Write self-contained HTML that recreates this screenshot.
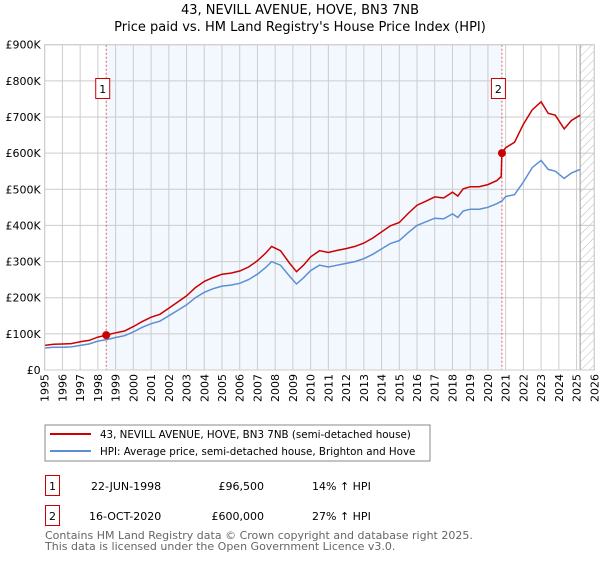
<!DOCTYPE html>
<html><head><meta charset="utf-8"><style>
body{margin:0;background:#fff;font-family:"Liberation Sans","DejaVu Sans",sans-serif;}
svg text{font-family:"DejaVu Sans","Liberation Sans",sans-serif;}
</style></head><body>
<svg id="c" width="600" height="560" viewBox="0 0 600 560">
<defs><pattern id="hatch" width="6" height="6" patternUnits="userSpaceOnUse" patternTransform="rotate(45)"><line x1="0" y1="0" x2="0" y2="6" stroke="#bbb" stroke-width="1"/></pattern></defs>
<text x="300" y="14" text-anchor="middle" font-size="13" fill="#000">43, NEVILL AVENUE, HOVE, BN3 7NB</text>
<text x="300" y="31" text-anchor="middle" font-size="13" fill="#000">Price paid vs. HM Land Registry's House Price Index (HPI)</text>
<g id="plot"></g>
<rect x="45" y="425" width="385" height="36" fill="#fff" stroke="#888"/>
<line x1="50" y1="434" x2="91" y2="434" stroke="#cc0000" stroke-width="2"/>
<text x="100" y="438" font-size="10.3">43, NEVILL AVENUE, HOVE, BN3 7NB (semi-detached house)</text>
<line x1="50" y1="451" x2="91" y2="451" stroke="#5b8fd4" stroke-width="2"/>
<text x="100" y="455" font-size="10.3">HPI: Average price, semi-detached house, Brighton and Hove</text>
<rect x="45.5" y="475.5" width="14" height="20" fill="#fff" stroke="#cc0000"/>
<text x="52.5" y="490" font-size="11" text-anchor="middle">1</text>
<text x="91" y="490" font-size="11">22-JUN-1998</text>
<text x="264" y="490" font-size="11" text-anchor="end">£96,500</text>
<text x="312" y="490" font-size="11">14% ↑ HPI</text>
<rect x="45.5" y="505.5" width="14" height="20" fill="#fff" stroke="#cc0000"/>
<text x="52.5" y="520" font-size="11" text-anchor="middle">2</text>
<text x="89" y="520" font-size="11">16-OCT-2020</text>
<text x="264" y="520" font-size="11" text-anchor="end">£600,000</text>
<text x="312" y="520" font-size="11">27% ↑ HPI</text>
<text x="45" y="539" font-size="11" fill="#666">Contains HM Land Registry data © Crown copyright and database right 2025.</text>
<text x="45" y="550" font-size="11" fill="#666">This data is licensed under the Open Government Licence v3.0.</text>
</svg>
<script>
const yTicks=[0,100000,200000,300000,400000,500000,600000,700000,800000,900000];
const yTickLabels=["£0","£100K","£200K","£300K","£400K","£500K","£600K","£700K","£800K","£900K"];
const xYears=[1995,1996,1997,1998,1999,2000,2001,2002,2003,2004,2005,2006,2007,2008,2009,2010,2011,2012,2013,2014,2015,2016,2017,2018,2019,2020,2021,2022,2023,2024,2025,2026];
const hpiT=[1995,1995.5,1996,1996.5,1997,1997.5,1998,1998.5,1999,1999.5,2000,2000.5,2001,2001.5,2002,2002.5,2003,2003.5,2004,2004.5,2005,2005.5,2006,2006.5,2007,2007.5,2007.8,2008.3,2008.8,2009.2,2009.6,2010,2010.5,2011,2011.5,2012,2012.5,2013,2013.5,2014,2014.5,2015,2015.5,2016,2016.5,2017,2017.5,2018,2018.3,2018.6,2019,2019.5,2020,2020.5,2020.8,2021,2021.5,2022,2022.5,2023,2023.4,2023.8,2024.3,2024.7,2025.2];
const hpiV=[61,63,63,64,68,72,80,84,90,95,105,118,128,135,150,165,180,200,215,225,232,235,240,250,265,285,300,290,260,238,255,275,290,285,290,295,300,308,320,335,350,358,380,400,410,420,418,432,422,440,445,445,450,460,468,480,485,520,560,580,555,550,530,545,555];
const priceT=[1995,1995.5,1996,1996.5,1997,1997.5,1998,1998.47,1999,1999.5,2000,2000.5,2001,2001.5,2002,2002.5,2003,2003.5,2004,2004.5,2005,2005.5,2006,2006.5,2007,2007.5,2007.8,2008.3,2008.8,2009.2,2009.6,2010,2010.5,2011,2011.5,2012,2012.5,2013,2013.5,2014,2014.5,2015,2015.5,2016,2016.5,2017,2017.5,2018,2018.3,2018.6,2019,2019.5,2020,2020.5,2020.75,2020.79,2021,2021.5,2022,2022.5,2023,2023.4,2023.8,2024.3,2024.7,2025.2];
const priceV=[68,71,72,73,78,82,91,96.5,103,108,120,134,146,154,171,188,205,228,245,256,265,268,274,285,302,325,342,330,296,272,290,313,330,325,331,336,342,351,365,382,399,408,433,456,467,479,476,492,481,501,507,507,513,524,535,600,615,630,680,720,742,710,705,667,690,705];
const sales=[{t:1998.47,v:96.5,label:"1"},{t:2020.79,v:600,label:"2"}];
const X0=44.7,X1=594.3,Y0=370,Y1=44.7;
const xs=t=>X0+(t-1995)/(2026-1995)*(X1-X0);
const ys=v=>Y0-v/900000*(Y0-Y1);
const NS="http://www.w3.org/2000/svg";
const g=document.getElementById('plot');
function el(n,a){const e=document.createElementNS(NS,n);for(const k in a)e.setAttribute(k,a[k]);g.appendChild(e);return e;}
let r=el('rect',{x:xs(1998.47),y:Y1,width:xs(2020.79)-xs(1998.47),height:Y0-Y1,fill:'#f3f7fe'});


r=el('rect',{x:xs(2025.2),y:Y1,width:X1-xs(2025.2),height:Y0-Y1,fill:'url(#hatch)'});


yTicks.forEach((v,i)=>{
 const l=el('line',{x1:X0,x2:X1,y1:ys(v),y2:ys(v),stroke:'#ccc'});
 
 
 const t=el('text',{x:X0-4,y:ys(v)+4,'text-anchor':'end','font-size':11});
 t.textContent=yTickLabels[i];
 
 
});
xYears.forEach(yr=>{
 const l=el('line',{x1:xs(yr),x2:xs(yr),y1:Y1,y2:Y0,stroke:'#ccc'});
 
 
 const x=xs(yr),y=Y0+4;
 const t=el('text',{x:x+4,y:y,'text-anchor':'end','font-size':11,transform:`rotate(-90 ${x+4} ${y})`});
 t.textContent=yr;
 
 
});
r=el('line',{x1:xs(2025.2),x2:xs(2025.2),y1:Y1,y2:Y0,stroke:'#999'});


sales.forEach(s=>{
 const l=el('line',{x1:xs(s.t),x2:xs(s.t),y1:Y1,y2:Y0,stroke:'#e06060','stroke-dasharray':'2,2'});
 
 
});
function path(T,V,col,name){
 const d=T.map((t,i)=>(i?'L':'M')+xs(t).toFixed(1)+','+ys(V[i]*1000).toFixed(1)).join('');
 const p=el('path',{d:d,fill:'none',stroke:col,'stroke-width':1.5});
 
 
}
path(hpiT,hpiV,'#5b8fd4','hpi-line');
path(priceT,priceV,'#cc0000','price-paid-line');
sales.forEach(s=>{
 const c=el('circle',{cx:xs(s.t),cy:ys(s.v*1000),r:4,fill:'#cc0000'});
 
 
 const bx=el('rect',{x:xs(s.t)-10.5,y:78.5,width:14,height:20,fill:'#fff',stroke:'#cc0000'});
 
 
 const t=el('text',{x:xs(s.t)-3.5,y:93,'text-anchor':'middle','font-size':11});
 t.textContent=s.label;
 
 
});
r=el('rect',{x:X0,y:Y1,width:X1-X0,height:Y0-Y1,fill:'none',stroke:'#ccc'});


</script>
</body></html>
